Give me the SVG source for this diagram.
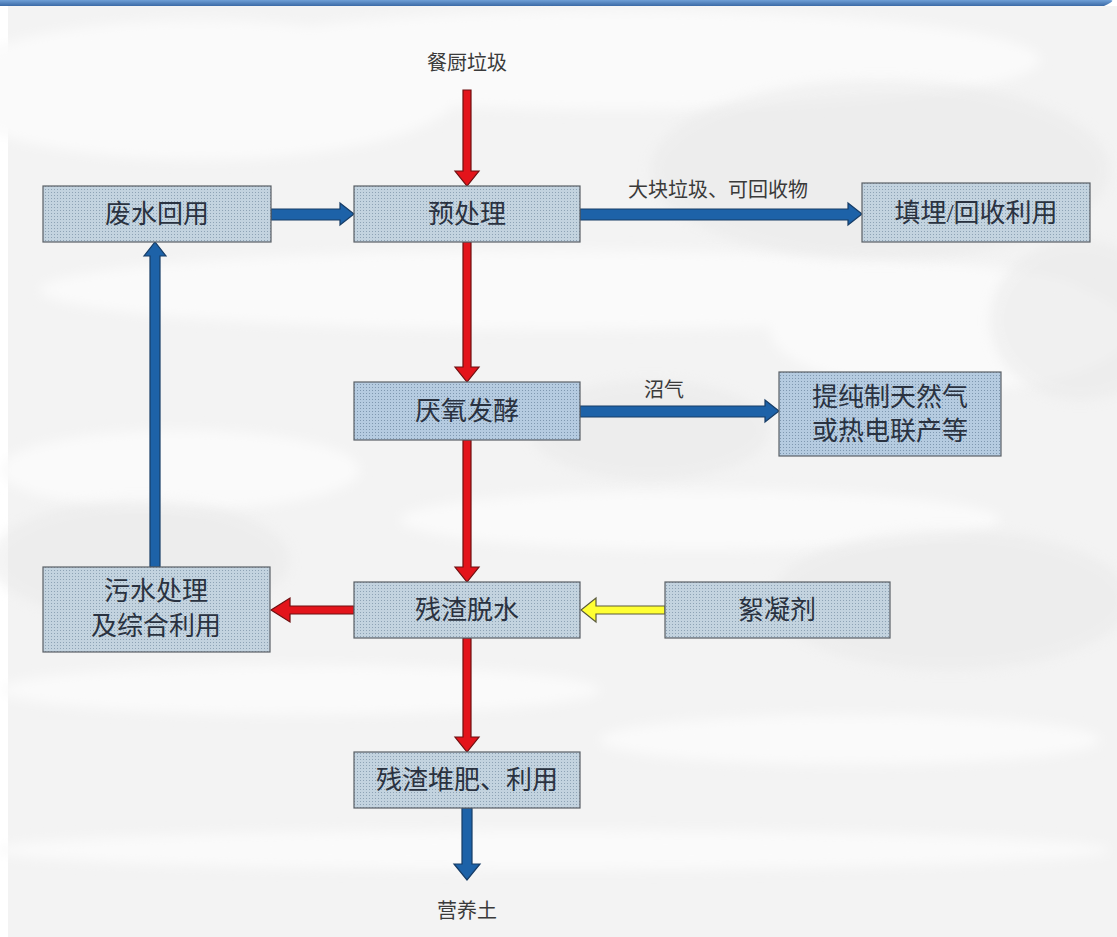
<svg xmlns="http://www.w3.org/2000/svg" width="1117" height="937" viewBox="0 0 1117 937">
<defs>
<pattern id="dots" width="3" height="3" patternUnits="userSpaceOnUse">
<rect width="3" height="3" fill="#c3d3df"/>
<rect width="1" height="1" fill="#8ea3b5"/>
</pattern>
<pattern id="dots2" width="3" height="3" patternUnits="userSpaceOnUse">
<rect width="3" height="3" fill="#b5cbe0"/>
<rect width="1" height="1" fill="#7f98b0"/>
</pattern>
<linearGradient id="bar" x1="0" y1="0" x2="0" y2="1">
<stop offset="0" stop-color="#6f9fd6"/>
<stop offset="1" stop-color="#3b6aa6"/>
</linearGradient>
<filter id="blur" x="-20%" y="-20%" width="140%" height="140%"><feGaussianBlur stdDeviation="6"/></filter>
</defs>
<style>
.box{stroke:#5a6066;stroke-width:1.2}
.t{font-family:"Liberation Serif","Noto Sans CJK SC",serif;font-size:26px;fill:#2a3240;text-anchor:middle}
.l{font-family:"Liberation Serif","Noto Sans CJK SC",serif;font-size:20px;fill:#3a3a3a;text-anchor:middle}
.red{fill:#e3141b;stroke:#6e0f10;stroke-width:1.2}
.blue{fill:#1d62a8;stroke:#163c66;stroke-width:1.2}
.yel{fill:#ffff33;stroke:#5a5a3a;stroke-width:1.2}
</style>
<rect width="1117" height="937" fill="#ffffff"/>
<g id="background">
<rect x="8" y="6" width="1109" height="931" fill="#f3f3f3"/>
<g filter="url(#blur)" fill="#fafafa">
<ellipse cx="200" cy="90" rx="260" ry="70"/>
<ellipse cx="620" cy="60" rx="420" ry="50"/>
<ellipse cx="560" cy="290" rx="520" ry="40"/>
<ellipse cx="950" cy="330" rx="180" ry="60"/>
<ellipse cx="180" cy="470" rx="180" ry="40"/>
<ellipse cx="700" cy="520" rx="300" ry="30"/>
<ellipse cx="300" cy="690" rx="300" ry="25"/>
<ellipse cx="850" cy="740" rx="250" ry="25"/>
<ellipse cx="550" cy="850" rx="560" ry="20"/>
</g>
<g filter="url(#blur)" fill="#e8e8e8" opacity="0.5">
<ellipse cx="880" cy="170" rx="230" ry="90"/>
<ellipse cx="1080" cy="320" rx="90" ry="80"/>
<ellipse cx="140" cy="560" rx="150" ry="60"/>
<ellipse cx="950" cy="600" rx="180" ry="70"/>
<ellipse cx="650" cy="430" rx="120" ry="50"/>
</g>
<path d="M0,0 H1110 Q1117,0 1104,6 H0 Z" fill="url(#bar)"/>
</g>
<g id="connectors">
<polygon class="red" points="463,90 471,90 471,171 479,171 467,186 455,171 463,171"/>
<polygon class="blue" points="271,209 340,209 340,203 354,214 340,225 340,220 271,220"/>
<polygon class="blue" points="580,209 848,209 848,203 862,214 848,225 848,220 580,220"/>
<polygon class="red" points="463,242 471,242 471,367 479,367 467,382 455,367 463,367"/>
<polygon class="blue" points="580,406 765,406 765,400 779,411 765,422 765,417 580,417"/>
<polygon class="red" points="463,440 471,440 471,567 479,567 467,582 455,567 463,567"/>
<polygon class="red" points="354,606 290,606 290,598 271,610 290,622 290,614 354,614"/>
<polygon class="yel" points="665,606 596,606 596,598 581,610 596,622 596,614 665,614"/>
<polygon class="blue" points="150,567 150,256 144,256 155,242 166,256 160,256 160,567"/>
<polygon class="red" points="463,638 471,638 471,737 479,737 467,752 455,737 463,737"/>
<polygon class="blue" points="462,808 472,808 472,864 480,864 467,880 454,864 462,864"/>
<text class="l" x="467" y="70">餐厨垃圾</text>
<text class="l" x="718" y="197">大块垃圾、可回收物</text>
<text class="l" x="664" y="397">沼气</text>
<text class="l" x="467" y="918">营养土</text>
</g>
<g id="n-wastewater-reuse">
<rect class="box" x="43" y="186" width="228" height="56" fill="url(#dots)"/>
<text class="t" x="157" y="223">废水回用</text>
</g>
<g id="n-pretreatment">
<rect class="box" x="354" y="186" width="226" height="56" fill="url(#dots)"/>
<text class="t" x="467" y="223">预处理</text>
</g>
<g id="n-landfill">
<rect class="box" x="862" y="183" width="228" height="59" fill="url(#dots)"/>
<text class="t" x="976" y="222">填埋/回收利用</text>
</g>
<g id="n-anaerobic">
<rect class="box" x="354" y="382" width="226" height="58" fill="url(#dots2)"/>
<text class="t" x="467" y="420">厌氧发酵</text>
</g>
<g id="n-biogas">
<rect class="box" x="779" y="372" width="222" height="84" fill="url(#dots2)"/>
<text class="t" x="890" y="406">提纯制天然气</text>
<text class="t" x="890" y="440">或热电联产等</text>
</g>
<g id="n-sewage">
<rect class="box" x="43" y="567" width="227" height="85" fill="url(#dots)"/>
<text class="t" x="156" y="600">污水处理</text>
<text class="t" x="156" y="635">及综合利用</text>
</g>
<g id="n-dewatering">
<rect class="box" x="354" y="582" width="226" height="56" fill="url(#dots)"/>
<text class="t" x="467" y="619">残渣脱水</text>
</g>
<g id="n-flocculant">
<rect class="box" x="665" y="582" width="225" height="56" fill="url(#dots)"/>
<text class="t" x="777" y="619">絮凝剂</text>
</g>
<g id="n-compost">
<rect class="box" x="354" y="752" width="226" height="56" fill="url(#dots)"/>
<text class="t" x="467" y="789">残渣堆肥、利用</text>
</g>
</svg>
